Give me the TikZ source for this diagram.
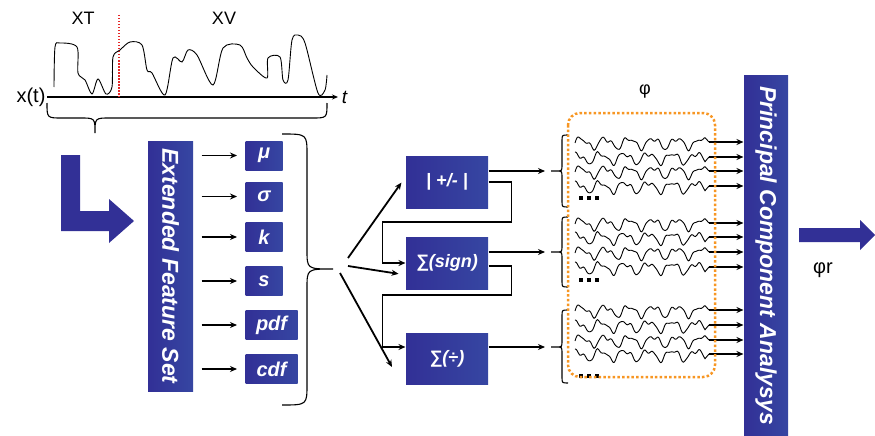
\documentclass[tikz,border=0pt]{standalone}
\usepackage{fontspec}
\setmainfont{Liberation Sans}
\usetikzlibrary{positioning,arrows.meta}

\definecolor{pcablue}{RGB}{50,48,150}
\definecolor{pcablueR}{RGB}{54,70,162}
\definecolor{phiorange}{RGB}{247,150,35}
\definecolor{splitred}{RGB}{230,40,40}

\tikzset{
  bluebox/.style={left color=pcablue, right color=pcablueR, text=white, inner sep=0pt,
    font=\fontsize{20}{24}\selectfont\bfseries\itshape},
  featbox/.style={bluebox, minimum height=29pt, anchor=west},
  procbox/.style={bluebox, minimum width=82pt, minimum height=52pt,
    font=\fontsize{18}{22}\selectfont\bfseries\itshape},
  barbox/.style={bluebox, rotate=-90, font=\fontsize{23}{27}\selectfont\bfseries\itshape},
  lbl/.style={font=\fontsize{18}{21}\selectfont},
  thickarrow/.style={->, line width=1.8pt},
}

\begin{document}
\begin{tikzpicture}[x=1pt, y=-1pt, >={Stealth[length=7pt,width=6pt]}, line width=1.1pt]
  \useasboundingbox (0,0) rectangle (875,436);

  % signal x(t)
  \coordinate (O) at (47,97);
  \coordinate (T) at (338,97);
  \draw[-{Stealth[length=6pt,width=5pt]}] (O) -- (T) node[right, font=\fontsize{19}{22}\selectfont\itshape] (tlab) {t};
  \node[left, font=\fontsize{20}{24}\selectfont, inner sep=1pt] (xlab) at (O) {x(t)};
  \node[lbl] (xt) at (83,18) {XT};
  \node[lbl] (xv) at (224,18) {XV};
  \draw[splitred, line width=1.2pt, dash pattern=on 1.5pt off 1.5pt] (119,15) -- (119,97);
  \draw[line width=0.9pt] plot[smooth, tension=0.5] coordinates {(54,87) (55,47) (60,43) (77,47) (78,73) (85,80)
    (92,94) (98,79) (106,94) (112,87) (113,57) (120,50) (130,42) (142,45) (147,70) (152,73)
    (165,95) (173,58) (182,62) (188,50) (197,55) (213,85) (223,48) (240,45) (247,58) (253,67)
    (267,78) (268,58) (280,57) (283,80) (288,80) (292,40) (298,35) (305,43) (318,93) (325,90) (327,75)};
  \draw (47,103) .. controls (47,118) .. (62,118) -- (80,118) .. controls (95,118) .. (95,133)
        .. controls (95,118) .. (110,118) -- (312,118) .. controls (327,118) .. (327,103);

  % L arrow
  \fill[pcablue] (61,155) -- (80,155) -- (80,211) -- (109,211) -- (109,199) -- (134,221)
    -- (109,243) -- (109,231) -- (61,231) -- cycle;

  % extended feature set
  \node[barbox, minimum width=250pt, minimum height=45pt] (efs) at (170.5,266) {Extended Feature Set};
  \foreach \n/\lab/\yy/\ww in {mu/μ/155.5/37, sigma/σ/196.5/37, k/k/237/37, s/s/281/37,
      pdf/pdf/325/52, cdf/cdf/369/52}{
    \node[featbox, minimum width=\ww pt] (\n) at (245,\yy) {\lab};
    \draw[thickarrow, shorten <=8pt, shorten >=8pt] (efs.north |- \n.west) -- (\n.west);
  }
  \draw (282,134) .. controls (307,134) .. (307,155) -- (307,250) .. controls (307,269) .. (333,269)
        .. controls (307,269) .. (307,288) -- (307,384) .. controls (307,405) .. (282,405);

  % processing
  \node[procbox] (plus) at (447,182) {| +/- |};
  \node[procbox] (sign) at (447,263) {∑(sign)};
  \node[procbox, minimum height=51pt] (div) at (447,358.5) {∑(÷)};
  \coordinate (fa) at (348,258);
  \coordinate (fb) at (348,266);
  \coordinate (fc) at (340,273);
  \coordinate (fcend) at (392,367);
  \draw[thickarrow, shorten >=7pt] (fa) -- (plus.173);
  \draw[thickarrow, shorten >=7pt] (fb) -- (sign.196);
  \draw[thickarrow] (fc) -- (fcend);
  \draw[thickarrow] (plus.east) -| ++(23,40) -| ([xshift=-23pt]sign.west) -- (sign.west);
  \draw[thickarrow] ([yshift=-3pt]sign.east) -| ++(23,29) -| ([xshift=-23pt,yshift=11.5pt]div.west)
    -- ([yshift=11.5pt]div.west);

  % principal component analysis
  \node[barbox, minimum width=361pt, minimum height=44pt] (pca) at (766,255.5) {Principal Component Analysys};
  \fill[pcablue] (799,228) -- (860,228) -- (860,220) -- (875,235) -- (860,250) -- (860,242) -- (799,242) -- cycle;
  \node[font=\fontsize{20}{24}\selectfont] (phir) at (823,270) {φr};

  % feature groups
  \foreach \g/\gy/\bt/\bb/\dy/\la/\lb/\lc/\ld in {1/171/135/207/198/142/157/171/186,
      2/252/217/287/280/223/237/252/267, 3/347/310/383/376/310/325/340/354}{
    \coordinate (g\g) at (551,\gy);
    \draw (568,\bt) .. controls (562,\bt) .. (562,\bt+6) -- (562,\gy-6) .. controls (562,\gy) .. (556,\gy) -- (g\g)
          (556,\gy) .. controls (562,\gy) .. (562,\gy+6) -- (562,\bb-6) .. controls (562,\bb) .. (568,\bb);
    \foreach \d in {581,589,597}
      \fill (\d-2.2,\dy-1.6) rectangle (\d+2.2,\dy+1.6);
    \foreach \yy/\ph [count=\i] in {\la/0, \lb/70, \lc/0, \ld/70}{
      \coordinate (w\g-\i) at (709,\yy);
      \draw[line width=0.9pt] plot[domain=0:130, samples=110, smooth] ({575+\x}, {\yy+1 - 4.8*sin(15*\x+\ph) - 2.4*sin(31*\x+2*\ph) - 0.8*sin(53*\x)})
        -- (w\g-\i);
      \draw[thickarrow] (w\g-\i) -- (w\g-\i -| pca.south);
    }
  }
  \draw[thickarrow, shorten >=6pt] ([yshift=11pt]plus.east) -- (g1);
  \draw[thickarrow, shorten >=6pt] ([yshift=11pt]sign.east) -- (g2);
  \draw[thickarrow, shorten >=6pt] ([yshift=11.5pt]div.east) -- (g3);
  \draw[phiorange, line width=2.5pt, dash pattern=on 2.5pt off 2.2pt, rounded corners=12pt]
    (568,113) rectangle (715,377);
  \node[lbl] (phi) at (645,92) {φ};
\end{tikzpicture}
\end{document}
